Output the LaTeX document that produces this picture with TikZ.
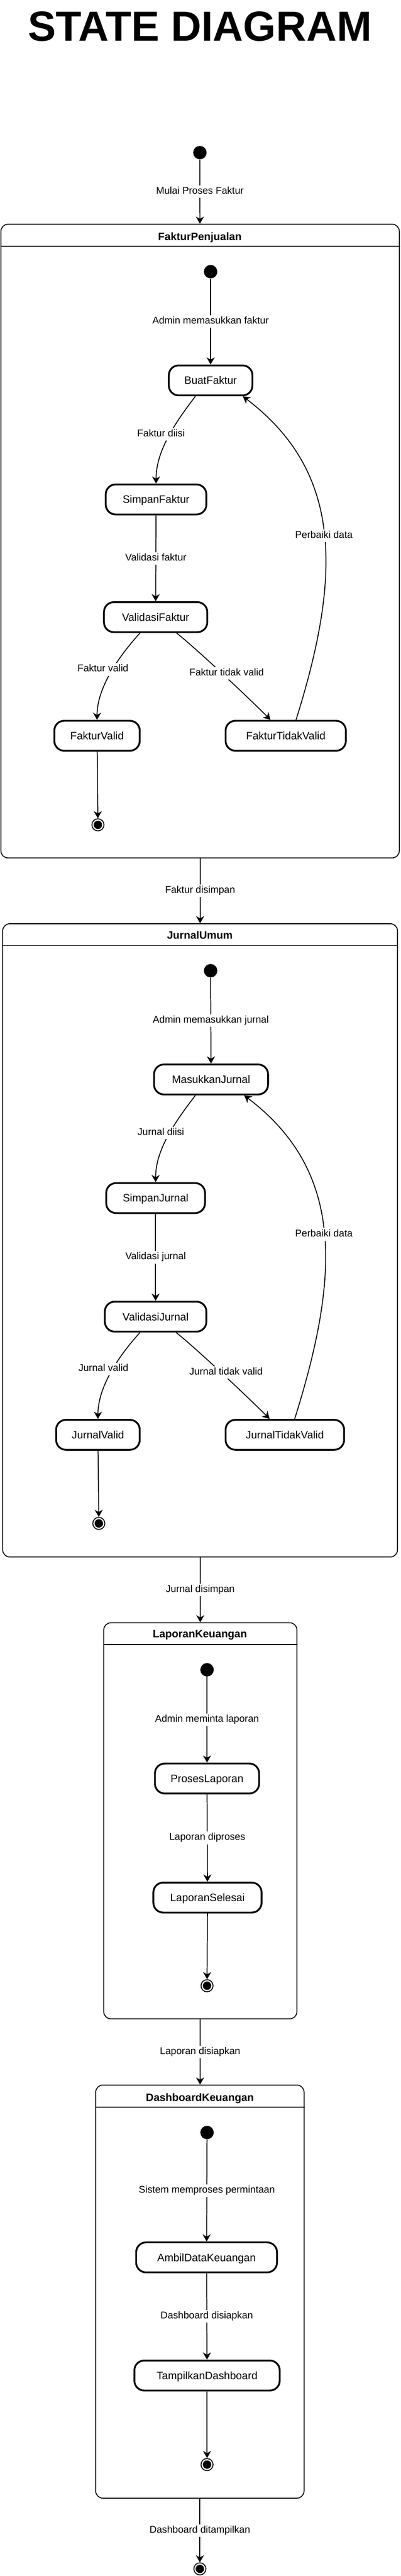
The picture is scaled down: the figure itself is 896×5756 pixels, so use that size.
\documentclass[tikz,border=0pt]{standalone}
\usepackage{fontspec}
\setmainfont{Liberation Sans}
\usetikzlibrary{arrows.meta}

\begin{document}
\begin{tikzpicture}
            [x=0.5pt, y=0.5pt,
             statebox/.style = {draw, rectangle, rounded corners=11pt, line width=2pt, minimum height=33.5pt, inner sep=0pt, text height=8.6pt, text depth=0pt, font=\fontsize{12}{14}\selectfont},
             composite/.style = {draw, rectangle, rounded corners=8pt, line width=1pt, inner sep=0pt},
             ctitle/.style = {inner sep=0pt, text height=8.6pt, text depth=0pt, font=\bfseries\fontsize{12}{14}\selectfont},
             startdot/.style = {circle, fill, minimum size=15pt, inner sep=0pt},
             enddot/.style = {circle, draw, line width=1pt, minimum size=13.5pt, inner sep=0pt, path picture={\fill (path picture bounding box.center) circle (4.7pt);}},
             trans/.style = {line width=1pt, -{Stealth[length=8pt, width=9pt, inset=2.5pt]}},
             lbl/.style = {fill=white, inner xsep=1pt, inner ysep=0pt, text height=9.5pt, text depth=4.5pt, font=\fontsize{11}{13}\selectfont}]
            \useasboundingbox (0,0) rectangle (896,-5756);

            \node[inner sep=0pt, text height=33.7pt, text depth=0pt, font=\bfseries\fontsize{47}{56}\selectfont] (DiagramTitle) at (447,-57.5) {STATE DIAGRAM};
            \node[startdot] (ProcessStart) at (447,-341) {};

            % FakturPenjualan
            \node[composite, minimum width=445.5pt, minimum height=708pt] (FakturPenjualan) at (447.5,-1209) {};
            \draw[line width=1pt] ([yshift=-25pt]FakturPenjualan.north west) -- ([yshift=-25pt]FakturPenjualan.north east);
            \node[ctitle] (FakturPenjualanTitle) at (447,-528) {FakturPenjualan};
            \node[startdot] (FakturStart) at (471,-607) {};
            \node[statebox, minimum width=93.5pt] (BuatFaktur) at (471,-850) {BuatFaktur};
            \node[statebox, minimum width=112.5pt] (SimpanFaktur) at (349,-1116) {SimpanFaktur};
            \node[statebox, minimum width=115.5pt] (ValidasiFaktur) at (348,-1379) {ValidasiFaktur};
            \node[statebox, minimum width=95.5pt] (FakturValid) at (217,-1644) {FakturValid};
            \node[statebox, minimum width=134.5pt] (FakturTidakValid) at (639,-1644) {FakturTidakValid};
            \node[enddot] (FakturEnd) at (219,-1843) {};

            \path[trans] (ProcessStart) edge node[lbl, midway] (lblMulai) {Mulai Proses Faktur} (FakturPenjualan);
            \path[trans] (FakturStart) edge node[lbl, midway] (lblAdminFaktur) {Admin memasukkan faktur} (BuatFaktur);
            \draw[trans] ([xshift=-17pt]BuatFaktur.south) .. controls +(-50,-65) and +(0,70) .. node[lbl, pos=0.5, xshift=-7pt, yshift=5.5pt] (lblFakturDiisi) {Faktur diisi} (SimpanFaktur.north);
            \path[trans] (SimpanFaktur) edge node[lbl, midway] (lblValidasiFaktur) {Validasi faktur} (ValidasiFaktur);
            \draw[trans] ([xshift=-17.5pt]ValidasiFaktur.south) .. controls +(-50,-55) and +(0,70) .. node[lbl, pos=0.5, xshift=-8pt, yshift=5pt] (lblFakturValid) {Faktur valid} (FakturValid.north);
            \draw[trans] ([xshift=23.5pt]ValidasiFaktur.south) .. controls +(50,-40) and +(-45,45) .. node[lbl, pos=0.5, xshift=2.5pt, yshift=2.5pt] (lblFakturTidakValid) {Faktur tidak valid} ([xshift=-17pt]FakturTidakValid.north);
            \draw[trans] ([xshift=11.5pt]FakturTidakValid.north) .. controls +(102,324) and +(223,-169) .. node[lbl, pos=0.5, yshift=-4pt] (lblPerbaikiFaktur) {Perbaiki data} ([xshift=36pt]BuatFaktur.south);
            \path[trans] (FakturValid) edge (FakturEnd);

            % JurnalUmum
            \node[composite, minimum width=441.5pt, minimum height=707.5pt] (JurnalUmum) at (447.5,-2771.5) {};
            \draw[line width=1pt] ([yshift=-25pt]JurnalUmum.north west) -- ([yshift=-25pt]JurnalUmum.north east);
            \node[ctitle] (JurnalUmumTitle) at (447,-2089) {JurnalUmum};
            \node[startdot] (JurnalStart) at (471,-2169) {};
            \node[statebox, minimum width=127.5pt] (MasukkanJurnal) at (472,-2412) {MasukkanJurnal};
            \node[statebox, minimum width=110.5pt] (SimpanJurnal) at (348,-2677) {SimpanJurnal};
            \node[statebox, minimum width=113.5pt] (ValidasiJurnal) at (348,-2942) {ValidasiJurnal};
            \node[statebox, minimum width=93.5pt] (JurnalValid) at (219,-3206) {JurnalValid};
            \node[statebox, minimum width=132.5pt] (JurnalTidakValid) at (637,-3206) {JurnalTidakValid};
            \node[enddot] (JurnalEnd) at (221,-3404) {};

            \path[trans] (FakturPenjualan) edge node[lbl, midway] (lblFakturDisimpan) {Faktur disimpan} (JurnalUmum);
            \path[trans] (JurnalStart) edge node[lbl, midway] (lblAdminJurnal) {Admin memasukkan jurnal} (MasukkanJurnal);
            \draw[trans] ([xshift=-17.5pt]MasukkanJurnal.south) .. controls +(-50,-65) and +(0,70) .. node[lbl, pos=0.5, xshift=-7pt, yshift=5.5pt] (lblJurnalDiisi) {Jurnal diisi} (SimpanJurnal.north);
            \path[trans] (SimpanJurnal) edge node[lbl, midway] (lblValidasiJurnal) {Validasi jurnal} (ValidasiJurnal);
            \draw[trans] ([xshift=-17.5pt]ValidasiJurnal.south) .. controls +(-50,-55) and +(0,70) .. node[lbl, pos=0.5, xshift=-8pt, yshift=5pt] (lblJurnalValid) {Jurnal valid} (JurnalValid.north);
            \draw[trans] ([xshift=23pt]ValidasiJurnal.south) .. controls +(50,-40) and +(-45,45) .. node[lbl, pos=0.5, xshift=2.5pt, yshift=2.5pt] (lblJurnalTidakValid) {Jurnal tidak valid} ([xshift=-17pt]JurnalTidakValid.north);
            \draw[trans] ([xshift=11pt]JurnalTidakValid.north) .. controls +(102,324) and +(223,-169) .. node[lbl, pos=0.5, yshift=-4pt] (lblPerbaikiJurnal) {Perbaiki data} ([xshift=37pt]MasukkanJurnal.south);
            \path[trans] (JurnalValid) edge (JurnalEnd);

            % LaporanKeuangan
            \node[composite, minimum width=216pt, minimum height=442.5pt] (LaporanKeuangan) at (448,-4068.5) {};
            \draw[line width=1pt] ([yshift=-25pt]LaporanKeuangan.north west) -- ([yshift=-25pt]LaporanKeuangan.north east);
            \node[ctitle] (LaporanKeuanganTitle) at (447,-3651) {LaporanKeuangan};
            \node[startdot] (LaporanStart) at (463,-3731) {};
            \node[statebox, minimum width=116.5pt] (ProsesLaporan) at (463,-3974) {ProsesLaporan};
            \node[statebox, minimum width=121pt] (LaporanSelesai) at (464,-4240) {LaporanSelesai};
            \node[enddot] (LaporanEnd) at (463,-4437) {};

            \path[trans] (JurnalUmum) edge node[lbl, midway] (lblJurnalDisimpan) {Jurnal disimpan} (LaporanKeuangan);
            \path[trans] (LaporanStart) edge node[lbl, midway] (lblAdminLaporan) {Admin meminta laporan} (ProsesLaporan);
            \path[trans] (ProsesLaporan) edge node[lbl, midway] (lblLaporanDiproses) {Laporan diproses} (LaporanSelesai);
            \path[trans] (LaporanSelesai) edge (LaporanEnd);

            % DashboardKeuangan
            \node[composite, minimum width=233pt, minimum height=461.5pt] (DashboardKeuangan) at (447,-5120.5) {};
            \draw[line width=1pt] ([yshift=-25pt]DashboardKeuangan.north west) -- ([yshift=-25pt]DashboardKeuangan.north east);
            \node[ctitle] (DashboardKeuanganTitle) at (447,-4686) {DashboardKeuangan};
            \node[startdot] (DashboardStart) at (463,-4765) {};
            \node[statebox, minimum width=157.5pt] (AmbilDataKeuangan) at (462,-5044) {AmbilDataKeuangan};
            \node[statebox, minimum width=162.5pt] (TampilkanDashboard) at (463,-5308) {TampilkanDashboard};
            \node[enddot] (DashboardEnd) at (463,-5507) {};
            \node[enddot] (ProcessEnd) at (447,-5740) {};

            \path[trans] (LaporanKeuangan) edge node[lbl, midway] (lblLaporanDisiapkan) {Laporan disiapkan} (DashboardKeuangan);
            \path[trans] (DashboardStart) edge node[lbl, midway] (lblSistem) {Sistem memproses permintaan} (AmbilDataKeuangan);
            \path[trans] (AmbilDataKeuangan) edge node[lbl, midway] (lblDashboardDisiapkan) {Dashboard disiapkan} (TampilkanDashboard);
            \path[trans] (TampilkanDashboard) edge (DashboardEnd);
            \path[trans] (DashboardKeuangan) edge node[lbl, midway] (lblDitampilkan) {Dashboard ditampilkan} (ProcessEnd);
        \end{tikzpicture}
\end{document}
